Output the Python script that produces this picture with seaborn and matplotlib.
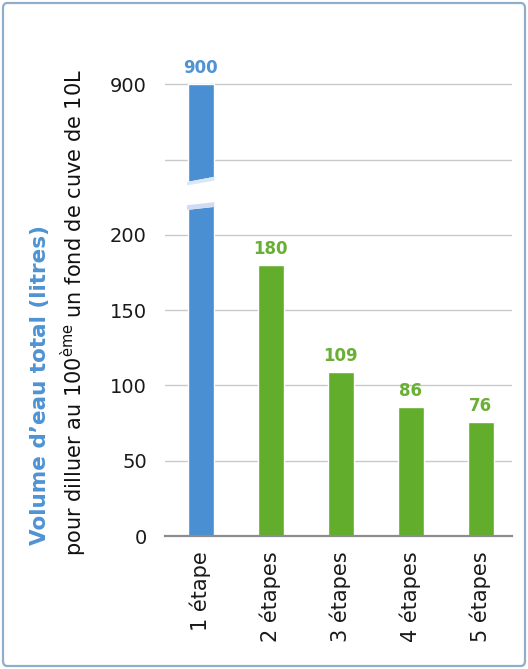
import numpy as np
import pandas as pd
import matplotlib
matplotlib.use("Agg")
import matplotlib.pyplot as plt
from matplotlib.patches import FancyBboxPatch, Polygon
import seaborn as sns

categories = ["1 étape", "2 étapes", "3 étapes", "4 étapes", "5 étapes"]
values = [900, 180, 109, 86, 76]
bar_colors = ["#4a8fd2", "#62ad2b", "#62ad2b", "#62ad2b", "#62ad2b"]
label_colors = ["#4f93d4", "#6aaf35", "#6aaf35", "#6aaf35", "#6aaf35"]
tick_values = [0, 50, 100, 150, 200, 550, 900]
tick_labels = ["0", "50", "100", "150", "200", "", "900"]
ylabel_main = "Volume d\u2019eau total (litres)"
ylabel_sub = r"pour dilluer au 100$^{\mathrm{ème}}$ un fond de cuve de 10L"

sns.set_style("white")
plt.rcParams["font.family"] = ["DejaVu Sans"]
plt.rcParams["mathtext.fontset"] = "dejavusans"

df = pd.DataFrame({"cat": categories, "val": values})

fig = plt.figure(figsize=(5.28, 6.69), dpi=100)
ax = fig.add_axes([0.3125, 0.1988, 0.6575, 0.7562])

sns.barplot(data=df, x="cat", y="val", hue="cat", palette=bar_colors,
            legend=False, width=0.37, ax=ax, zorder=3, saturation=1)

BREAK = 200.0
FACTOR = 7.0

def fwd(v):
    v = np.asarray(v, dtype=float)
    return np.where(v <= BREAK, v, BREAK + (v - BREAK) / FACTOR)

def inv(d):
    d = np.asarray(d, dtype=float)
    return np.where(d <= BREAK, d, BREAK + (d - BREAK) * FACTOR)

ax.set_yscale("function", functions=(fwd, inv))
ax.set_ylim(0, 1152)
ax.set_xlim(-0.51, 4.45)

ax.set_yticks(tick_values)
ax.set_yticklabels(tick_labels)
ax.tick_params(axis="y", length=0, pad=13, labelsize=14, colors="#1a1a1a")
ax.tick_params(axis="x", length=0, pad=11, labelsize=15, colors="#1a1a1a", labelrotation=90)
ax.set_xlabel("")
ax.set_ylabel("")
ax.yaxis.grid(True, color="#c9c9c9", linewidth=1.0, zorder=0)
ax.set_axisbelow(True)
for s in ["left", "right", "top"]:
    ax.spines[s].set_visible(False)
ax.spines["bottom"].set_color("#8c8c8c")
ax.spines["bottom"].set_linewidth(1.6)
ax.spines["bottom"].set_zorder(4)

# value labels
for i, (v, c) in enumerate(zip(values, label_colors)):
    ax.annotate(str(v), (i, v), xytext=(0, 5), textcoords="offset points",
                ha="center", va="bottom", fontsize=12, fontweight="bold",
                color=c, zorder=5)

# break mark on the first bar
hw = 0.37 / 2 + 0.01
band = Polygon([(-hw, 316), (hw, 330), (hw, 470), (-hw, 446)], closed=True,
               facecolor="white", edgecolor="none", zorder=4)
ax.add_patch(band)
stripe = Polygon([(-hw, 316), (hw, 330), (hw, 352), (-hw, 338)], closed=True,
                 facecolor="#cfdcf3", edgecolor="none", zorder=4)
ax.add_patch(stripe)
stripe2 = Polygon([(-hw, 430), (hw, 452), (hw, 470), (-hw, 446)], closed=True,
                  facecolor="#d9e7f6", edgecolor="none", zorder=4)
ax.add_patch(stripe2)

# axis titles
fig.text(40 / 528, 1 - 545 / 669, ylabel_main, rotation=90, ha="center", va="bottom",
         fontsize=15.5, fontweight="bold", color="#4f93d4")
fig.text(73 / 528, 1 - 556 / 669, ylabel_sub, rotation=90, ha="center", va="bottom",
         fontsize=15, color="#111111")

# rounded frame
frame = FancyBboxPatch((3 / 528, 3 / 669), 522 / 528, 663 / 669,
                       boxstyle="round,pad=0,rounding_size=0.008",
                       transform=fig.transFigure, facecolor="none",
                       edgecolor="#8eaecb", linewidth=1.6)
fig.patches.append(frame)

fig.savefig("out.png", dpi=100)
